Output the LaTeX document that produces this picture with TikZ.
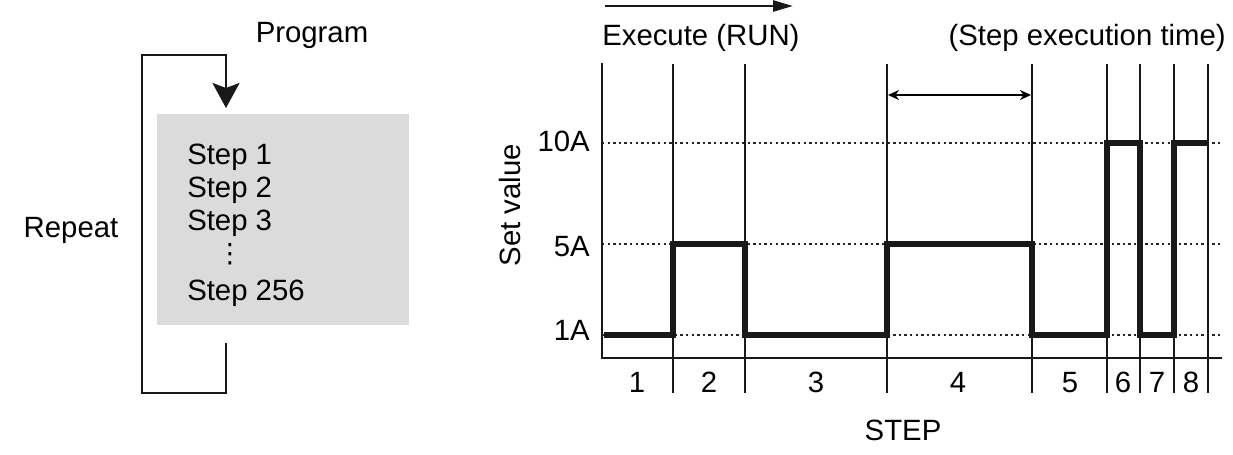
\documentclass[tikz,border=0pt]{standalone}
\usepackage{fontspec}
\setmainfont{Liberation Sans}
\newfontfamily\dejavu{DejaVu Sans}
\usetikzlibrary{arrows.meta}
\begin{document}
\begin{tikzpicture}[x=0.75pt,y=-0.75pt,
  txt/.style={inner sep=0pt,font=\fontsize{22}{26}\selectfont,text height=15.8pt,text depth=0pt},
  thin line/.style={line width=1.1pt,draw=black!90},
  axis line/.style={line width=2pt,draw=black!90},
  dotline/.style={line width=1.4pt,dash pattern=on 1.8pt off 2.4pt,draw=black!85},
  signal/.style={line width=4.2pt,draw=black!90,line join=miter},
  grayfill/.style={fill=black!14,draw=none}]
\useasboundingbox (0,0) rectangle (1233,454);
% ---------- Program loop ----------
\node[grayfill,minimum width=252*0.75pt,minimum height=211*0.75pt,anchor=north west,inner sep=0pt] (box) at (157,114) {};
\node[txt] (prog) at (312,32) {Program};
\node[txt] (rep) at (71,227) {Repeat};
\node[txt,anchor=west] (s1) at (187,154) {Step 1};
\node[txt,anchor=west] (s2) at (187,187) {Step 2};
\node[txt,anchor=west] (s3) at (187,220) {Step 3};
\node[inner sep=0pt,font=\dejavu\fontsize{20}{24}\selectfont] (dots) at (230,254) {⋮};
\node[txt,anchor=west] (s256) at (187,290) {Step 256};
\coordinate (lb) at (226,343);
\coordinate (lt) at (226,108);
\draw[axis line] (lb) -- (226,393) -- (142,393) -- (142,55) -- (226,55) -- (226,90);
\draw[axis line,-{Stealth[width=27*0.75pt,length=25*0.75pt,inset=5*0.75pt]}] (226,70) -- (lt);
% ---------- Chart ----------
\coordinate (o) at (602,358);
\coordinate (ytop) at (602,63);
\coordinate (xend) at (1222,358);
% dotted levels
\foreach \y in {335,244,143}{\draw[dotline] (602,\y) -- (1222,\y);}
% step separators
\foreach \x in {673,745,887,1032,1107,1140,1174,1208}{\draw[thin line] (\x,64) -- (\x,393);}
\draw[axis line] (ytop) -- (o) -- (xend);
% signal
\draw[signal] (604,335) -- (673,335) -- (673,244) -- (745,244) -- (745,335) -- (887,335) -- (887,244) -- (1032,244) -- (1032,335) -- (1107,335) -- (1107,143) -- (1140,143) -- (1140,335) -- (1174,335) -- (1174,143) -- (1208,143);
% level labels
\node[txt,anchor=east] (l1) at (590,330) {1A};
\node[txt,anchor=east] (l5) at (590,246) {5A};
\node[txt,anchor=east] (l10) at (590,141) {10A};
\node[txt,rotate=90] (sv) at (510,205) {Set value};
% step numbers
\foreach \x/\n in {637/1,709/2,816/3,958/4,1070/5,1123/6,1157/7,1191/8}{\node[txt] (n\n) at (\x,382) {\n};}
\node[txt] (stepl) at (903,430) {STEP};
% top labels
\node[txt,anchor=west] (exe) at (602,35) {Execute (RUN)};
\node[txt,anchor=east] (sxt) at (1226,35) {(Step execution time)};
\coordinate (ea) at (605,6);
\coordinate (eb) at (793,6);
\draw[axis line,-{Triangle[width=11*0.75pt,length=20*0.75pt]}] (ea) -- (eb);
\coordinate (da) at (888,95);
\coordinate (db) at (1031,95);
\draw[line width=1.1pt,{Stealth[width=10*0.75pt,length=11*0.75pt]}-{Stealth[width=10*0.75pt,length=11*0.75pt]}] (da) -- (db);
\end{tikzpicture}
\end{document}
